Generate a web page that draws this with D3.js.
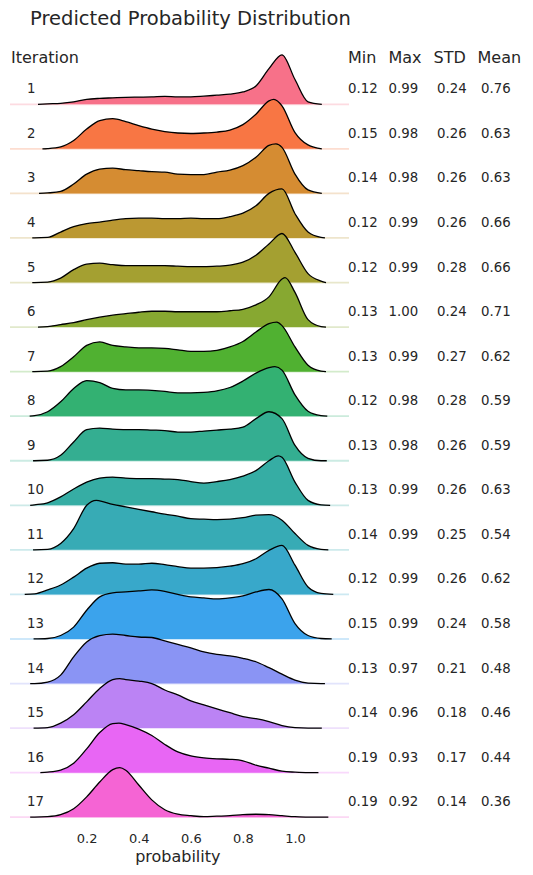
<!DOCTYPE html>
<html>
<head>
<meta charset="utf-8">
<script src="https://cdn.jsdelivr.net/npm/d3@7"></script>
<style>
  html, body { margin: 0; padding: 0; background: #ffffff; }
  svg { display: block; }
  text { font-family: "DejaVu Sans", sans-serif; fill: #262626; }
</style>
</head>
<body>
<svg id="chart" width="533" height="875"></svg>
<script>
// ---------- data ----------
const iterations = ["1","2","3","4","5","6","7","8","9","10","11","12","13","14","15","16","17"];
const grid = [-0.05,0,0.05,0.1,0.15,0.2,0.25,0.3,0.35,0.4,0.45,0.5,0.55,0.6,0.65,0.7,0.75,0.8,0.85,0.9,0.95,1.0,1.05,1.1,1.15];
// relative density (peak = 1) read at each grid value
const densities = [
  [0,0,.01,.02,.05,.10,.12,.13,.14,.145,.15,.16,.15,.15,.165,.185,.205,.25,.37,.72,1,.5,.05,0,0],
  [0,0,.005,.04,.17,.40,.57,.61,.55,.47,.40,.35,.32,.31,.32,.34,.38,.49,.70,.97,.87,.33,.08,0,0],
  [0,0,.01,.04,.19,.39,.49,.51,.48,.46,.44,.43,.39,.38,.38,.43,.47,.56,.73,.97,.93,.39,.07,0,0],
  [0,0,.01,.12,.23,.29,.32,.36,.39,.40,.40,.39,.39,.40,.39,.39,.43,.50,.65,.90,.99,.49,.12,.01,0],
  [0,0,.01,.09,.26,.37,.39,.36,.34,.34,.34,.34,.33,.32,.32,.33,.35,.41,.55,.78,.99,.61,.18,.03,0],
  [0,0,.01,.05,.09,.15,.20,.24,.27,.30,.32,.32,.31,.31,.31,.31,.33,.36,.45,.61,.97,.70,.15,.01,0],
  [0,0,.01,.10,.30,.53,.60,.53,.50,.48,.48,.47,.44,.41,.41,.43,.50,.61,.80,.97,.93,.50,.13,.01,0],
  [0,.01,.09,.29,.56,.72,.68,.56,.53,.53,.52,.50,.47,.47,.48,.51,.58,.71,.87,.98,.93,.43,.10,.01,0],
  [0,0,.01,.11,.38,.63,.66,.64,.63,.63,.62,.61,.58,.58,.60,.62,.64,.68,.85,.99,.85,.31,.05,0,0],
  [0,.01,.05,.17,.33,.47,.55,.57,.55,.54,.54,.53,.52,.48,.45,.48,.52,.59,.70,.90,.97,.47,.10,.01,0],
  [0,0,.01,.13,.43,.90,.99,.92,.87,.82,.77,.72,.68,.63,.62,.61,.62,.65,.70,.71,.60,.33,.09,.01,0],
  [0,.01,.09,.19,.35,.53,.63,.64,.61,.61,.63,.60,.56,.53,.53,.54,.57,.62,.72,.89,.99,.59,.15,.02,0],
  [0,0,.01,.07,.24,.58,.85,.93,.95,.97,.99,.96,.90,.85,.83,.81,.83,.87,.95,1,.81,.31,.07,.01,0],
  [0,0,.03,.17,.54,.84,.97,1,.97,.94,.93,.86,.79,.72,.64,.59,.56,.51,.44,.32,.19,.07,.01,0,0],
  [0,0,.01,.10,.27,.53,.80,.98,.98,.95,.90,.77,.67,.55,.47,.39,.31,.23,.19,.13,.05,.01,0,0,0],
  [0,0,.01,.05,.19,.48,.81,.99,.97,.88,.75,.57,.42,.34,.30,.28,.27,.24,.15,.09,.03,.01,0,0,0],
  [0,0,.01,.05,.17,.41,.71,.96,.95,.65,.35,.15,.06,.03,.01,.02,.03,.05,.06,.05,.03,.01,0,0,0]
];
const curveStart = [0.013,0.03,0.017,-0.009,-0.009,0.013,-0.009,-0.019,-0.006,-0.017,-0.006,-0.038,-0.004,-0.017,-0.004,0.022,-0.017];
const curveEnd   = [1.103,1.103,1.103,1.115,1.119,1.119,1.119,1.124,1.122,1.135,1.128,1.147,1.141,1.115,1.103,1.09,1.128];
const peakAt     = [0.95,0.919,0.927,0.94,0.955,0.962,0.93,0.923,0.91,0.936,0.237,0.942,0.906,0.297,0.327,0.324,0.327];

const statHeaders = ["Min","Max","STD","Mean"];
const statMin  = ["0.12","0.15","0.14","0.12","0.12","0.13","0.13","0.12","0.13","0.13","0.14","0.12","0.15","0.13","0.14","0.19","0.19"];
const statMax  = ["0.99","0.98","0.98","0.99","0.99","1.00","0.99","0.98","0.98","0.99","0.99","0.99","0.99","0.97","0.96","0.93","0.92"];
const statStd  = ["0.24","0.26","0.26","0.26","0.28","0.24","0.27","0.28","0.26","0.26","0.25","0.26","0.24","0.21","0.18","0.17","0.14"];
const statMean = ["0.76","0.63","0.63","0.66","0.66","0.71","0.62","0.59","0.59","0.63","0.54","0.62","0.58","0.48","0.46","0.44","0.36"];
const xTicks = [0.2,0.4,0.6,0.8,1.0];

// ---------- husl palette (seaborn husl_palette) ----------
const M = [[3.240969941904521,-1.537383177570093,-0.498610760293],
           [-0.96924363628087,1.87596750150772,0.041555057407175],
           [0.055630079696993,-0.20397695888897,1.056971514242878]];
const refU = 0.19783000664283, refV = 0.46831999493879, kappa = 903.2962962962963, eps = 0.0088564516790356;
function bounds(L) {
  const out = [];
  const sub1 = Math.pow(L + 16, 3) / 1560896;
  const sub2 = sub1 > eps ? sub1 : L / kappa;
  for (let c = 0; c < 3; c++) {
    const [m1, m2, m3] = M[c];
    for (let t = 0; t < 2; t++) {
      const top1 = (284517 * m1 - 94839 * m3) * sub2;
      const top2 = (838422 * m3 + 769860 * m2 + 731718 * m1) * L * sub2 - 769860 * t * L;
      const bottom = (632260 * m3 - 126452 * m2) * sub2 + 126452 * t;
      out.push([top1 / bottom, top2 / bottom]);
    }
  }
  return out;
}
function maxChroma(L, H) {
  const hr = H / 360 * 2 * Math.PI;
  let mn = Infinity;
  for (const [slope, icpt] of bounds(L)) {
    const len = icpt / (Math.sin(hr) - slope * Math.cos(hr));
    if (len >= 0) mn = Math.min(mn, len);
  }
  return mn;
}
function husl(h, s, l) {
  const C = maxChroma(l, h) / 100 * s;
  const hr = h / 360 * 2 * Math.PI;
  const U = Math.cos(hr) * C, V = Math.sin(hr) * C;
  const vu = U / (13 * l) + refU, vv = V / (13 * l) + refV;
  const Y = l <= 8 ? l / kappa : Math.pow((l + 16) / 116, 3);
  const X = 0 - (9 * Y * vu) / ((vu - 4) * vv - vu * vv);
  const Z = (9 * Y - 15 * vv * Y - vv * X) / (3 * vv);
  const rgb = M.map(r => {
    const c = r[0] * X + r[1] * Y + r[2] * Z;
    const v = c <= 0.0031308 ? 12.92 * c : 1.055 * Math.pow(c, 1 / 2.4) - 0.055;
    return Math.round(Math.max(0, Math.min(1, v)) * 255);
  });
  return d3.rgb(rgb[0], rgb[1], rgb[2]);
}
const paletteSize = 18;
const colors = iterations.map((_, i) => husl(((i / paletteSize + 0.01) % 1) * 359, 0.9 * 99, 0.65 * 99));

// ---------- layout ----------
const svg = d3.select("#chart");
svg.append("rect").attr("width", 533).attr("height", 875).attr("fill", "#ffffff");

const x = d3.scaleLinear().domain([0, 1]).range([34.6, 295]);
const yBase = d3.scalePoint().domain(iterations).range([104.3, 817.2]);
const ridgeH = 49.5;

iterations.forEach((it, i) => {
  const base = yBase(it);
  const pts = [[curveStart[i], 0]];
  grid.forEach((g, j) => {
    if (g > curveStart[i] + 0.005 && g < curveEnd[i] - 0.005) pts.push([g, densities[i][j]]);
  });
  const near = pts.some(p => Math.abs(p[0] - peakAt[i]) < 0.012);
  if (!near) pts.push([peakAt[i], 1]);
  pts.push([curveEnd[i], 0]);
  pts.sort((a, b) => a[0] - b[0]);

  const g = svg.append("g");
  g.append("line")
    .attr("x1", 10).attr("x2", 349)
    .attr("y1", base).attr("y2", base)
    .attr("stroke", colors[i]).attr("stroke-opacity", 0.25)
    .attr("stroke-width", 1.8);

  const area = d3.area()
    .x(d => x(d[0])).y0(base).y1(d => base - d[1] * ridgeH)
    .curve(d3.curveMonotoneX);
  const line = d3.line()
    .x(d => x(d[0])).y(d => base - d[1] * ridgeH)
    .curve(d3.curveMonotoneX);
  g.append("path").datum(pts).attr("d", area).attr("fill", colors[i]).attr("stroke", "none");
  g.append("path").datum(pts).attr("d", line).attr("fill", "none")
    .attr("stroke", "#000").attr("stroke-width", 1.3).attr("stroke-linejoin", "round");

  g.append("text").attr("x", 27).attr("y", base - 11).attr("font-size", 13.3).text(it);

  const statsCols = [[statMin, 348], [statMax, 388.5], [statStd, 437], [statMean, 481]];
  statsCols.forEach(([arr, xx]) => {
    g.append("text").attr("x", xx).attr("y", base - 11).attr("font-size", 13.3).text(arr[i]);
  });
});

// headers
svg.append("text").attr("x", 30).attr("y", 25).attr("font-size", 19.5).text("Predicted Probability Distribution");
svg.append("text").attr("x", 11).attr("y", 63.3).attr("font-size", 16).text("Iteration");
const headerX = [348, 388.5, 433.5, 477.5];
statHeaders.forEach((h, k) => {
  svg.append("text").attr("x", headerX[k]).attr("y", 63.3).attr("font-size", 16).text(h);
});

// x axis
const axis = d3.axisBottom(x).tickValues(xTicks).tickFormat(d3.format(".1f")).tickSize(0).tickPadding(7.8);
const ax = svg.append("g").attr("transform", "translate(0,826)").call(axis);
ax.select(".domain").remove();
ax.selectAll("text").attr("font-size", 13).attr("font-family", "DejaVu Sans").style("fill", "#262626");

svg.append("text").attr("x", x(0.55)).attr("y", 861.5).attr("text-anchor", "middle")
  .attr("font-size", 16).text("probability");
</script>
</body>
</html>
